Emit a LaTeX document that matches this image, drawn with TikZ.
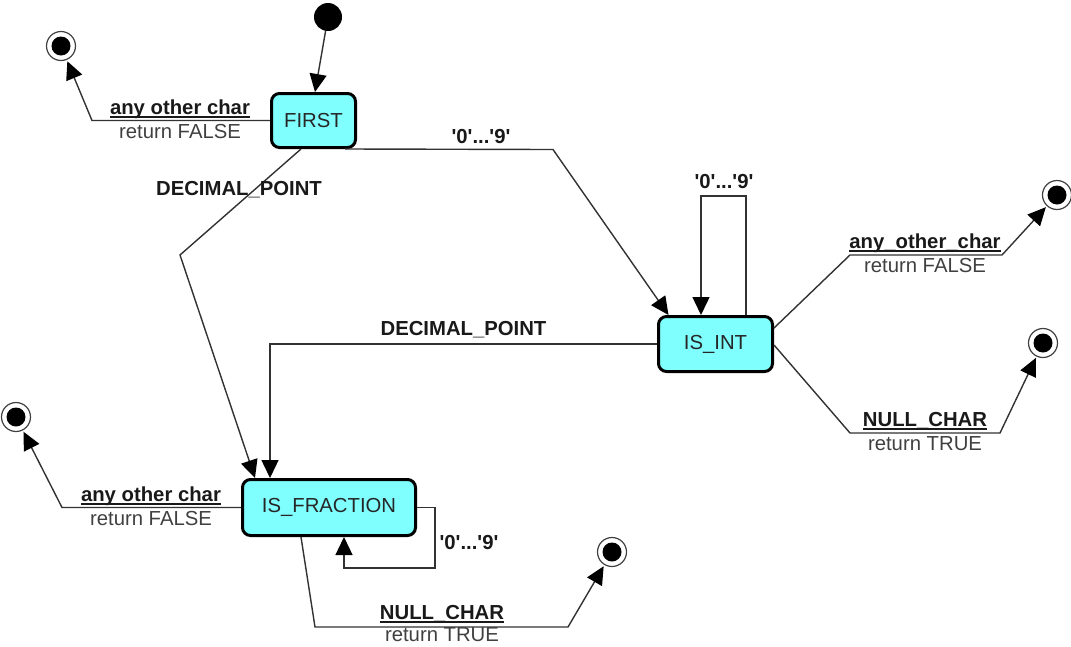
\documentclass[tikz,border=0pt]{standalone}
\usepackage{fontspec}
\setmainfont{Liberation Sans}
\usetikzlibrary{arrows.meta}
\definecolor{stfill}{RGB}{128,255,255}
\definecolor{edgecol}{RGB}{50,50,50}
\newcommand{\myul}[1]{\setbox0\hbox{#1}\rlap{\rule[-3.5pt]{\wd0}{1.3pt}}\box0}
\newcommand{\dq}{\textquotesingle}
\begin{document}
\begin{tikzpicture}[x=1pt,y=-1pt,
  every node/.style={font=\fontsize{20.3}{24}\selectfont},
  state/.style={draw=black,line width=3pt,rounded corners=8pt,fill=stfill,text=black!85,inner sep=0pt},
  initst/.style={circle,fill=black,minimum size=28pt,inner sep=0pt},
  finalst/.style={circle,draw=black!75,line width=1.2pt,minimum size=29pt,inner sep=0pt,outer sep=2pt,
    path picture={\fill[black] (path picture bounding box.center) circle (9.5pt);}},
  edge/.style={draw=edgecol,line width=1.4pt,-{Triangle[length=18pt,width=17pt,color=black,fill=black]}},
  lbl/.style={font=\bfseries\fontsize{20.3}{24}\selectfont,text=black!90,inner sep=0pt},
  ret/.style={text=black!75,inner sep=0pt}]
\useasboundingbox (0,0) rectangle (1071,646);

% states
\node[state,minimum width=84pt,minimum height=54pt] (first) at (313.5,120.5) {FIRST};
\node[state,minimum width=114pt,minimum height=55pt] (isint) at (715.5,344) {IS\_INT};
\node[state,minimum width=173pt,minimum height=56pt] (isfrac) at (329,507.5) {IS\_FRACTION};

\node[initst] (init) at (328,17) {};
\node[finalst] (f1) at (61,46) {};
\node[finalst] (f2) at (1057,195) {};
\node[finalst] (f3) at (1043,343) {};
\node[finalst] (f4) at (16,417) {};
\node[finalst] (f5) at (612,552) {};

% initial
\draw[edge] (init) -- ([xshift=1.5pt]first.north);

% FIRST -> final
\draw[edge] (first.west) -- (92,120.5) -- (f1);
\node[lbl,anchor=base] (l1a) at (180,114) {\myul{any other char}};
\node[ret,anchor=base] (l1b) at (180,138) {return FALSE};

% FIRST -> IS_INT
\draw[edge] ([xshift=-12pt]first.south east) -- (553,149.5) -- ([xshift=-47pt]isint.north);
\node[lbl] (l2) at (481,137) {\dq0\dq...\dq9\dq};

% FIRST -> IS_FRACTION
\draw[edge] ([xshift=-12.5pt]first.south) -- (180,255) -- ([xshift=-74pt]isfrac.north);
\node[lbl] (l3) at (239,190) {DECIMAL\_POINT};

% IS_INT -> IS_FRACTION
\draw[edge] (isint.west) -- (270,344) -- ([xshift=-59pt]isfrac.north);
\node[lbl] (l4) at (463.5,330) {DECIMAL\_POINT};

% IS_INT self loop
\draw[edge] ([xshift=30.5pt]isint.north) -- (746,196) -- (701,196) -- ([xshift=-14.5pt]isint.north);
\node[lbl] (l5) at (724,182) {\dq0\dq...\dq9\dq};

% IS_INT -> final (any_other_char)
\draw[edge] ([yshift=16pt]isint.east) -- (850,255) -- (1002,255) -- (f2);
\node[lbl,anchor=base] (l6a) at (925,248) {\myul{any\_other\_char}};
\node[ret,anchor=base] (l6b) at (925,272) {return FALSE};

% IS_INT -> final (NULL_CHAR)
\draw[edge] ([yshift=-1pt]isint.east) -- (850,433) -- (1000,433) -- (f3);
\node[lbl,anchor=base] (l7a) at (925,426) {\myul{NULL\_CHAR}};
\node[ret,anchor=base] (l7b) at (925,450) {return TRUE};

% IS_FRACTION -> final (any other char)
\draw[edge] (isfrac.west) -- (62,507.5) -- (f4);
\node[lbl,anchor=base] (l8a) at (151,501) {\myul{any other char}};
\node[ret,anchor=base] (l8b) at (151,525) {return FALSE};

% IS_FRACTION self loop
\draw[edge] (isfrac.east) -- (435,507.5) -- (435,568) -- (344,568) -- ([xshift=15pt]isfrac.south);
\node[lbl] (l9) at (469,543) {\dq0\dq...\dq9\dq};

% IS_FRACTION -> final (NULL_CHAR)
\draw[edge] ([xshift=-28pt]isfrac.south) -- (315,627) -- (568,627) -- (f5);
\node[lbl,anchor=base] (l10a) at (442,619) {\myul{NULL\_CHAR}};
\node[ret,anchor=base] (l10b) at (442,641) {return TRUE};
\end{tikzpicture}
\end{document}
